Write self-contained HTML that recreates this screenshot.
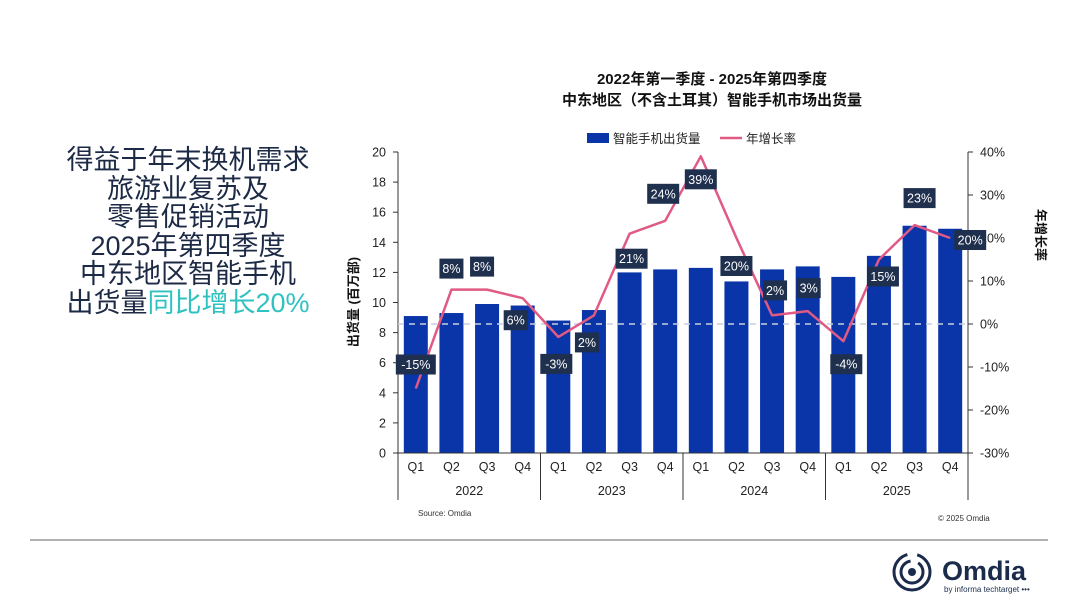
<!DOCTYPE html>
<html><head><meta charset="utf-8">
<style>
body{margin:0;width:1080px;height:608px;background:#fff;position:relative;overflow:hidden;font-family:"Liberation Sans","Noto Sans CJK SC",sans-serif;}
#headline{position:absolute;left:40px;top:146px;width:296px;text-align:center;font-size:27px;line-height:28.5px;color:#1c2a45;}
#headline .hl{color:#2fc2c0;}
svg text{font-family:"Liberation Sans","Noto Sans CJK SC",sans-serif;}
</style></head>
<body>
<div id="headline">得益于年末换机需求<br>旅游业复苏及<br>零售促销活动<br>2025年第四季度<br>中东地区智能手机<br>出货量<span class="hl">同比增长20%</span></div>
<svg id="chart" width="1080" height="608" style="position:absolute;left:0;top:0"></svg>
<script>
const categories=["Q1","Q2","Q3","Q4","Q1","Q2","Q3","Q4","Q1","Q2","Q3","Q4","Q1","Q2","Q3","Q4"];
const years=["2022","2023","2024","2025"];
const shipments=[9.1,9.3,9.9,9.8,8.8,9.5,12.0,12.2,12.3,11.4,12.2,12.4,11.7,13.1,15.1,14.9];
const growth=[-15,8,8,6,-3,2,21,24,39,20,2,3,-4,15,23,20];
const leftTicks=[0,2,4,6,8,10,12,14,16,18,20];
const rightTicks=[-30,-20,-10,0,10,20,30,40];
// label placement offsets relative to line point (layout, px)
const labelDX=[0,0,-5,-7,-2,-7,2,-2,0,0,3,1,3,4,5,20];
const labelDY=[-24,-21,-23,22,27,27,25,-27,23,28,-25,-23,23,17,-27,2];

const NS="http://www.w3.org/2000/svg";
const svg=document.getElementById('chart');
const X0=398,X1=968,Y0=453,Y1=152;
const step=(X1-X0)/categories.length;
const xc=i=>X0+step*(i+0.5);
const yL=v=>Y0-(v/20)*(Y0-Y1);
const yR=v=>Y0-((v+30)/70)*(Y0-Y1);
function el(tag,attrs,parent){const e=document.createElementNS(NS,tag);for(const k in attrs)e.setAttribute(k,attrs[k]);(parent||svg).appendChild(e);return e;}
function txt(s,attrs){const t=el('text',attrs);t.textContent=s;return t;}

let t;
t=txt("2022年第一季度 - 2025年第四季度",{x:712,y:84,'text-anchor':'middle','font-size':15,'font-weight':'bold',fill:'#111'});

t=txt("中东地区（不含土耳其）智能手机市场出货量",{x:712,y:105,'text-anchor':'middle','font-size':15,'font-weight':'bold',fill:'#111'});


// legend
let g=el('g',{});
el('rect',{x:587,y:133,width:22,height:10,fill:'#0a35a8'},g);
t=el('text',{x:613,y:143,'font-size':12.5,fill:'#222'},g);t.textContent="智能手机出货量";
g=el('g',{});
el('line',{x1:720,y1:138,x2:742,y2:138,stroke:'#e05a84','stroke-width':2.5},g);
t=el('text',{x:746,y:143,'font-size':12.5,fill:'#222'},g);t.textContent="年增长率";

// axes
let a=el('line',{x1:X0,y1:Y1,x2:X0,y2:500,stroke:'#333','stroke-width':1});
a=el('line',{x1:X1,y1:Y1,x2:X1,y2:500,stroke:'#333','stroke-width':1});
leftTicks.forEach(v=>{el('line',{x1:X0-5,y1:yL(v),x2:X0,y2:yL(v),stroke:'#333'});
 const tt=txt(String(v),{x:X0-12,y:yL(v)+4.5,'text-anchor':'end','font-size':12.5,fill:'#222'});
 });
rightTicks.forEach(v=>{el('line',{x1:X1,y1:yR(v),x2:X1+5,y2:yR(v),stroke:'#333'});
 const tt=txt(v+"%",{x:X1+12,y:yR(v)+4.5,'font-size':12.5,fill:'#222'});
 });
t=txt("出货量 (百万部)",{x:0,y:0,'font-size':13,'font-weight':'bold',fill:'#111','text-anchor':'middle',transform:'translate(358,302) rotate(-90)'});

t=txt("年增长率",{x:0,y:0,'font-size':13,'font-weight':'bold',fill:'#111','text-anchor':'middle',transform:'translate(1036,235) rotate(90)'});


// bars
shipments.forEach((v,i)=>{const r=el('rect',{x:xc(i)-12,y:yL(v),width:24,height:Y0-yL(v),fill:'#0a35a8'});
 });
el('line',{x1:X0,y1:Y0,x2:X1,y2:Y0,stroke:'#333'});
// zero dashed
let z=el('line',{x1:X0,y1:yR(0),x2:X1,y2:yR(0),stroke:'#c8cedb','stroke-width':1.5,'stroke-dasharray':'6,5'});

// growth line
let p=el('polyline',{points:growth.map((v,i)=>xc(i)+','+yR(v)).join(' '),fill:'none',stroke:'#e05a84','stroke-width':2.5,'stroke-linejoin':'round'});

// labels
growth.forEach((v,i)=>{const cx=xc(i)+labelDX[i],cy=yR(v)+labelDY[i];const s=v+"%";const w=s.length*8+8;
 const gg=el('g',{});
 el('rect',{x:cx-w/2,y:cy-10,width:w,height:20,fill:'#1f2f4e'},gg);
 const tt=el('text',{x:cx,y:cy+4.5,'text-anchor':'middle','font-size':12.5,fill:'#fff'},gg);tt.textContent=s;});
// category labels
categories.forEach((c,i)=>{const tt=txt(c,{x:xc(i),y:471,'text-anchor':'middle','font-size':12.5,fill:'#222'});
 });
years.forEach((yv,k)=>{const tt=txt(yv,{x:X0+step*(4*k+2),y:495,'text-anchor':'middle','font-size':12.5,fill:'#222'});
 
 if(k>0)el('line',{x1:X0+step*4*k,y1:Y0,x2:X0+step*4*k,y2:500,stroke:'#333'});});
t=txt("Source: Omdia",{x:418,y:516,'font-size':8,fill:'#333'});
t=txt("© 2025 Omdia",{x:938,y:521,'font-size':8,fill:'#333'});
// divider
let d=el('line',{x1:30,y1:540,x2:1048,y2:540,stroke:'#999','stroke-width':1.5});
// logo
g=el('g',{});
el('circle',{cx:912,cy:572,r:18,fill:'none',stroke:'#1a2b4c','stroke-width':3,'stroke-dasharray':'80,10'},g);
el('circle',{cx:912,cy:572,r:11,fill:'none',stroke:'#1a2b4c','stroke-width':3,'stroke-dasharray':'50,8'},g);
el('circle',{cx:912,cy:572,r:4,fill:'#1a2b4c'},g);
t=el('text',{x:942,y:580,'font-size':27,'font-weight':'bold',fill:'#1a2b4c'},g);t.textContent="Omdia";
t=el('text',{x:944,y:592,'font-size':8,fill:'#1a2b4c'},g);t.textContent="by informa techtarget •••";
</script>
</body></html>
